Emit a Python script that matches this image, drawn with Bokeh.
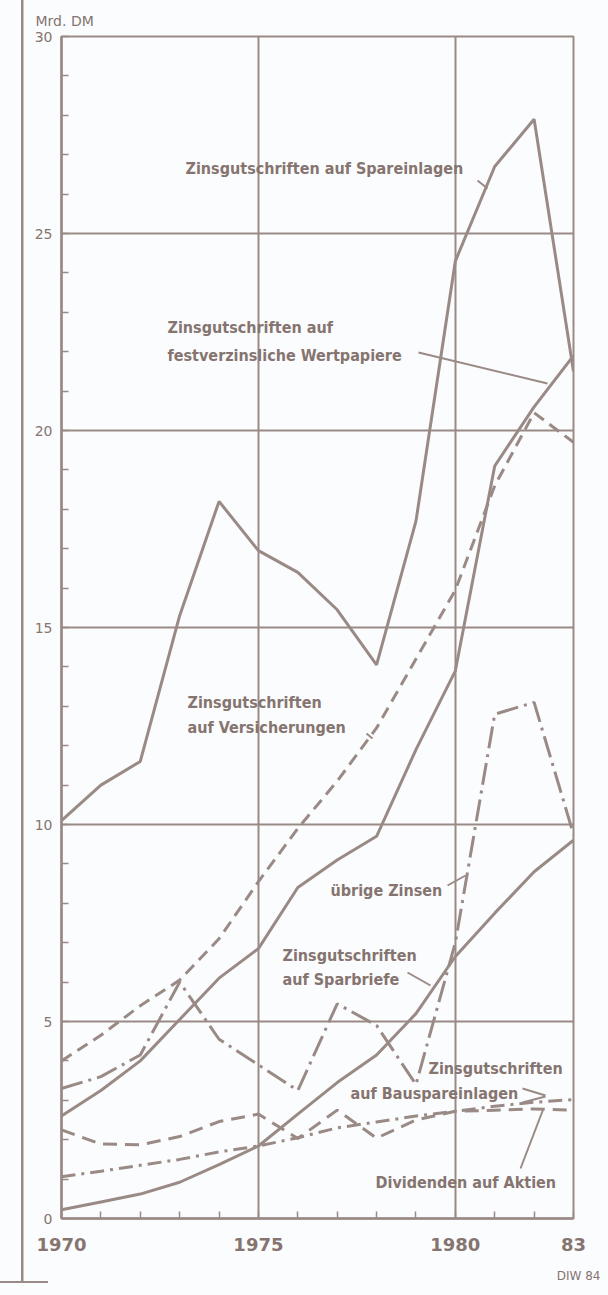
from bokeh.plotting import figure
from bokeh.models import FixedTicker, Label, Title
from bokeh.embed import file_html
from bokeh.resources import INLINE

# ---------------- data (Mrd. DM) ----------------
years = list(range(1970, 1984))
spareinlagen = [10.1, 11.0, 11.6, 15.3, 18.2, 16.95, 16.4, 15.45, 14.05, 17.7, 24.3, 26.7, 27.9, 21.5]
festverzinsliche = [2.6, 3.25, 4.0, 5.05, 6.1, 6.85, 8.4, 9.1, 9.7, 11.9, 13.9, 19.1, 20.6, 21.9]
versicherungen = [4.0, 4.65, 5.4, 6.05, 7.1, 8.55, 9.9, 11.1, 12.45, 14.2, 15.95, 18.6, 20.45, 19.7]
sparbriefe = [0.22, 0.42, 0.62, 0.92, 1.37, 1.84, 2.65, 3.45, 4.15, 5.2, 6.65, 7.75, 8.8, 9.6]
uebrige_zinsen = [3.3, 3.6, 4.15, 6.0, 4.55, 3.9, 3.25, 5.45, 4.9, 3.4, 7.0, 12.8, 13.1, 9.75]
bausparen = [1.06, 1.2, 1.35, 1.5, 1.69, 1.84, 2.05, 2.3, 2.45, 2.6, 2.72, 2.85, 2.95, 3.02]
dividenden = [2.25, 1.89, 1.87, 2.08, 2.46, 2.65, 2.03, 2.75, 2.04, 2.5, 2.72, 2.75, 2.78, 2.75]

x_ticks = [1970, 1975, 1980, 1983]
x_tick_labels = {1983: "83"}
y_ticks = [0, 5, 10, 15, 20, 25, 30]

LINE = "#9a8a86"
TEXT = "#857470"
BG = "#fbfcfd"
FONT = "DejaVu Sans Condensed"


def X(px):
    return 1970 + (px - 61) * 13 / 512


def Y(py):
    return (1218 - py) * 30 / 1182


p = figure(width=608, height=1295, x_range=(1970, 1983), y_range=(0, 30),
           output_backend="svg", toolbar_location=None,
           min_border_left=61, min_border_right=35, min_border_top=36, min_border_bottom=77,
           background_fill_color=BG, border_fill_color=None)

# page background with the scanned sheet edge (left and bottom-left rule)
p.styles = {
    "background": (
        f"linear-gradient({LINE}, {LINE}) 21px 0px / 2.5px 1283px no-repeat, "
        f"linear-gradient({LINE}, {LINE}) 0px 1281px / 48px 2px no-repeat, {BG}"
    )
}

p.outline_line_color = LINE
p.outline_line_width = 2

# unit caption top-left
p.title.text = "Mrd. DM"
p.title.align = "left"
p.title.offset = -26
p.title.standoff = 16
p.title.text_font = "DejaVu Sans"
p.title.text_font_size = "14px"
p.title.text_font_style = "normal"
p.title.text_color = TEXT

# axes
p.xaxis.ticker = FixedTicker(ticks=x_ticks, minor_ticks=years)
p.xaxis.major_label_overrides = x_tick_labels
p.yaxis.ticker = FixedTicker(ticks=y_ticks, minor_ticks=list(range(31)))
for ax in (p.xaxis[0], p.yaxis[0]):
    ax.axis_line_color = LINE
    ax.axis_line_width = 2.5
    ax.major_tick_line_color = LINE
    ax.minor_tick_line_color = LINE
    ax.major_tick_in = 0
    ax.major_tick_out = 0
    ax.minor_tick_in = 7
    ax.minor_tick_out = 0
    ax.minor_tick_line_width = 1.5
    ax.major_label_text_color = TEXT
p.xaxis.major_label_text_font = "DejaVu Sans"
p.xaxis.major_label_text_font_style = "bold"
p.xaxis.major_label_text_font_size = "18px"
p.xaxis.major_label_standoff = 19
p.yaxis.major_label_text_font = "DejaVu Sans"
p.yaxis.major_label_text_font_size = "14px"
p.yaxis.major_label_standoff = 9

p.xgrid.ticker = FixedTicker(ticks=[1975, 1980])
p.ygrid.ticker = FixedTicker(ticks=[5, 10, 15, 20, 25])
p.xgrid.grid_line_color = LINE
p.ygrid.grid_line_color = LINE
p.xgrid.grid_line_width = 2
p.ygrid.grid_line_width = 2

# source note bottom-right
p.add_layout(Title(text="DIW 84", align="right", offset=-27, standoff=26, text_font="DejaVu Sans",
                   text_font_size="12px", text_font_style="normal", text_color=TEXT), "below")

# series
lw = 3
p.line(years, spareinlagen, line_color=LINE, line_width=lw)
p.line(years, festverzinsliche, line_color=LINE, line_width=lw)
p.line(years, sparbriefe, line_color=LINE, line_width=lw)
p.line(years, versicherungen, line_color=LINE, line_width=lw, line_dash="12 7")
p.line(years, dividenden, line_color=LINE, line_width=lw, line_dash="14 8")
p.line(years, uebrige_zinsen, line_color=LINE, line_width=lw, line_dash="22 6 3 6")
p.line(years, bausparen, line_color=LINE, line_width=lw, line_dash="14 6 3 6")


# labels
def lab(px, py, text, size="16px"):
    p.add_layout(Label(x=X(px), y=Y(py), text=text, text_font=FONT, text_font_size=size,
                       text_font_style="bold", text_color=TEXT, text_align="left",
                       text_baseline="middle"))


lab(185, 168, "Zinsgutschriften auf Spareinlagen")
lab(167, 327, "Zinsgutschriften auf")
lab(167, 355, "festverzinsliche Wertpapiere")
lab(187, 702, "Zinsgutschriften")
lab(187, 727, "auf Versicherungen")
lab(330, 890, "übrige Zinsen")
lab(282, 955, "Zinsgutschriften")
lab(282, 979, "auf Sparbriefe")
lab(428, 1068, "Zinsgutschriften")
lab(350, 1093, "auf Bauspareinlagen")
lab(375, 1182, "Dividenden auf Aktien")

# leader lines (reference pixel positions)
seg_x0 = [477, 418, 366, 447, 407, 522, 522, 520]
seg_y0 = [180, 352, 733, 885, 972, 1088, 1102, 1168]
seg_x1 = [487, 547, 372, 465, 430, 545, 545, 543]
seg_y1 = [188, 383, 738, 875, 985, 1095, 1096, 1108]
p.segment(x0=[X(v) for v in seg_x0], y0=[Y(v) for v in seg_y0],
          x1=[X(v) for v in seg_x1], y1=[Y(v) for v in seg_y1],
          line_color=LINE, line_width=2)

open("out.html", "w").write(file_html(p, INLINE))
